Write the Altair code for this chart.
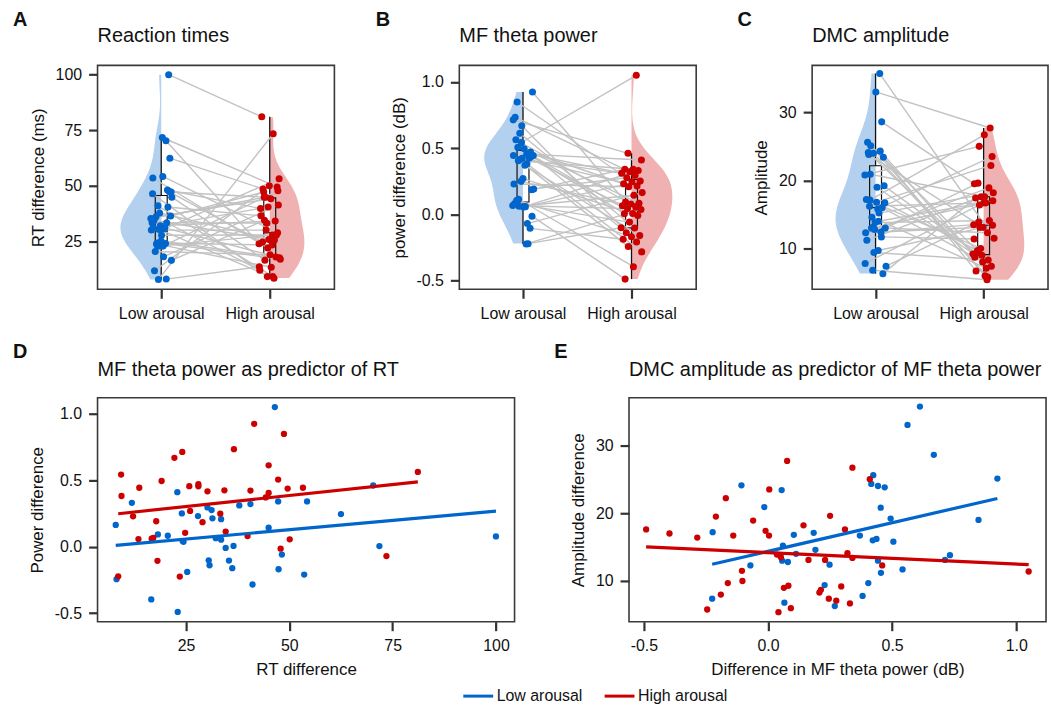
import altair as alt
import pandas as pd

# ---- per-participant values (39 participants) ----
rt_low = [46.5, 70.3, 22.9, 47.3, 54.3, 11.9, 40.6, 37.9, 30.2, 31.2, 24.0, 62.5, 27.9, 31.4, 33.5, 8.0, 45.0,
          18.2, 20.6, 100.0, 32.2, 33.5, 24.2, 24.4, 36.5, 71.8, 34.6, 48.2, 30.5, 35.4, 30.7, 36.2, 47.4, 25.3,
          53.6, 8.2, 41.1, 16.6, 23.0]
rt_high = [9.3, 24.1, 28.0, 45.0, 29.0, 50.1, 36.6, 25.8, 30.2, 17.8, 13.5, 48.7, 28.0, 40.6, 12.2, 73.5, 16.7,
           41.5, 19.1, 81.1, 34.3, 33.3, 17.1, 23.5, 47.3, 49.6, 26.0, 39.9, 8.6, 45.0, 53.3, 44.3, 24.8, 18.1,
           22.2, 13.7, 9.4, 34.6, 47.9]
pow_low = [0.542, 0.713, 0.454, 0.404, 0.184, 0.055, 0.733, 0.455, 0.416, 0.191, 0.057, 0.848, 0.47, 0.422,
           0.228, -0.071, 0.06, 0.924, 0.494, 0.562, 0.424, 0.248, 0.066, -0.225, 0.505, 0.437, 0.269, 0.08,
           -0.223, 0.612, 0.443, 0.37, 0.104, -0.107, 0.668, 0.443, 0.381, 0.113, -0.015]
pow_high = [1.05, 0.46, 0.41, 0.34, 0.34, 0.33, 0.32, 0.31, 0.295, 0.275, 0.25, 0.245, 0.23, 0.213, 0.207,
            0.163, 0.143, 0.092, 0.082, 0.077, 0.064, 0.052, 0.042, 0.036, 0.005, 0.004, -0.01, -0.06, -0.103,
            -0.105, -0.14, -0.162, -0.17, -0.19, -0.21, -0.245, -0.285, -0.397, -0.491]
amp_low = [11.7, 13.1, 20.8, 9.7, 17.1, 23.4, 13.8, 11.2, 24.3, 14.6, 13.0, 19.0, 23.8, 16.0, 9.4, 12.3, 15.2,
           25.1, 19.2, 33.0, 25.6, 12.4, 6.8, 7.4, 15.8, 16.2, 6.3, 12.8, 17.2, 35.7, 13.0, 16.7, 16.8, 24.1,
           28.6, 24.0, 7.8, 14.0, 20.9]
amp_high = [11.4, 12.3, 25.0, 13.4, 26.7, 6.7, 14.1, 17.6, 9.2, 7.1, 19.6, 7.4, 13.1, 8.7, 8.3, 13.1, 18.2,
            6.0, 9.3, 27.7, 9.0, 13.5, 5.4, 13.9, 23.5, 16.7, 17.4, 18.9, 10.0, 11.5, 16.7, 9.7, 22.2, 8.0,
            19.5, 5.8, 16.4, 17.0, 17.6]

GROUPS = ["Low arousal", "High arousal"]
BLUE, RED = "#0066CC", "#CC0000"
LBLUE, LRED = "#B4D0EF", "#EFB1B1"
FONT = "Liberation Sans"
n = len(rt_low)

long_df = pd.DataFrame({
    "sid": list(range(n)) * 2,
    "cond": [0] * n + [1] * n,
    "grp": [GROUPS[0]] * n + [GROUPS[1]] * n,
    "rt": rt_low + rt_high,
    "pw": pow_low + pow_high,
    "amp": amp_low + amp_high,
})
d_df = pd.DataFrame({"grp": [GROUPS[0]] * n + [GROUPS[1]] * n,
                     "x": rt_low + rt_high, "y": pow_high + pow_low})
e_df = pd.DataFrame({"grp": [GROUPS[0]] * n + [GROUPS[1]] * n,
                     "x": pow_low + pow_high, "y": amp_low + amp_high})
one = pd.DataFrame({"a": [0]})

XDOM = [-0.587, 1.596]
W = 0.376
DARK = alt.Scale(domain=GROUPS, range=[BLUE, RED])
LIGHT = alt.Scale(domain=GROUPS, range=[LBLUE, LRED])


def fmt1(dec):
    return (f"datum.value < 0 ? '-' + format(-datum.value, '.{dec}f') : format(datum.value, '.{dec}f')")


def labels(letter, ldx, ldy, title, tdy):
    lt = alt.Chart(one).mark_text(text=letter, fontSize=20, fontWeight="bold", align="left",
                                  baseline="middle", color="#111").encode(x=alt.value(ldx), y=alt.value(ldy))
    tt = alt.Chart(one).mark_text(text=title, fontSize=20, align="left", baseline="middle",
                                  color="#111").encode(x=alt.value(0), y=alt.value(tdy))
    return [lt, tt]


def raincloud(field, ytitle, ydom, yticks, ydec, letter, ldx, title, width, phase):
    xs = alt.Scale(domain=XDOM, nice=False, zero=False)
    ys = alt.Scale(domain=ydom, nice=False, zero=False)
    xa = alt.Axis(values=[0, 1], labelExpr="datum.value == 0 ? 'Low arousal' : 'High arousal'", title=None)
    ya = alt.Axis(values=yticks, labelExpr=fmt1(ydec), title=ytitle)
    base = alt.Chart(long_df)

    violin = base.transform_joinaggregate(
        lo=f"min({field})", hi=f"max({field})", groupby=["cond"]
    ).transform_density(
        field, groupby=["cond", "grp", "lo", "hi"], steps=400, as_=["v", "density"]
    ).transform_filter(
        "datum.v >= datum.lo && datum.v <= datum.hi"
    ).transform_joinaggregate(dmax="max(density)").transform_calculate(
        xw=f"datum.cond == 0 ? -{W}*datum.density/datum.dmax : 1 + {W}*datum.density/datum.dmax",
        xc="datum.cond",
    ).mark_area(orient="horizontal", opacity=1).encode(
        y=alt.Y("v:Q", scale=ys, axis=ya),
        x=alt.X("xw:Q", scale=xs, axis=xa),
        x2="xc:Q",
        fill=alt.Fill("grp:N", scale=LIGHT, legend=None),
    )

    stats = base.transform_joinaggregate(
        q1=f"q1({field})", q3=f"q3({field})", med=f"median({field})", groupby=["cond"]
    ).transform_filter(
        f"datum.{field} >= datum.q1 - 1.5*(datum.q3-datum.q1) && datum.{field} <= datum.q3 + 1.5*(datum.q3-datum.q1)"
    ).transform_aggregate(
        wlo=f"min({field})", whi=f"max({field})", groupby=["cond", "q1", "q3", "med"]
    ).transform_calculate(bl="datum.cond - 0.055", br="datum.cond + 0.055")

    box = stats.mark_rect(fillOpacity=0, stroke="#111", strokeWidth=1.2).encode(
        x=alt.X("bl:Q", scale=xs, axis=xa), x2="br:Q",
        y=alt.Y("q1:Q", scale=ys, axis=ya), y2="q3:Q")
    wl = stats.mark_rule(color="#111", strokeWidth=1.3).encode(
        x=alt.X("cond:Q", scale=xs, axis=xa), y=alt.Y("wlo:Q", scale=ys, axis=ya), y2="q1:Q")
    wh = stats.mark_rule(color="#111", strokeWidth=1.3).encode(
        x=alt.X("cond:Q", scale=xs, axis=xa), y=alt.Y("q3:Q", scale=ys, axis=ya), y2="whi:Q")
    med = stats.mark_rule(color="#111", strokeWidth=1.2).encode(
        x=alt.X("bl:Q", scale=xs, axis=xa), x2="br:Q", y=alt.Y("med:Q", scale=ys, axis=ya))

    jit = base.transform_calculate(
        xj=f"datum.cond + ((datum.sid*0.618034 + datum.cond*0.29 + {phase}) % 1 - 0.5)*0.2")
    lines = jit.mark_line(color="#C2C2C2", strokeWidth=1.4).encode(
        x=alt.X("xj:Q", scale=xs, axis=xa), y=alt.Y(f"{field}:Q", scale=ys, axis=ya),
        detail="sid:N", order="cond:Q")
    pts = jit.mark_circle(size=50, opacity=1).encode(
        x=alt.X("xj:Q", scale=xs, axis=xa), y=alt.Y(f"{field}:Q", scale=ys, axis=ya),
        color=alt.Color("grp:N", scale=DARK, legend=None))

    return alt.layer(violin, box, wl, wh, med, lines, pts,
                     *labels(letter, ldx, -46, title, -29)).properties(width=width, height=225)


def scatter(df, xtitle, ytitle, xdom, ydom, xticks, yticks, xdec, ydec, letter, ldx, title):
    xs = alt.Scale(domain=xdom, nice=False, zero=False)
    ys = alt.Scale(domain=ydom, nice=False, zero=False)
    xa = alt.Axis(values=xticks, labelExpr=fmt1(xdec), title=xtitle)
    ya = alt.Axis(values=yticks, labelExpr=fmt1(ydec), title=ytitle)
    pts = alt.Chart(df).mark_circle(size=40, opacity=1).encode(
        x=alt.X("x:Q", scale=xs, axis=xa), y=alt.Y("y:Q", scale=ys, axis=ya),
        color=alt.Color("grp:N", scale=DARK, legend=None))
    reg = alt.Chart(df).transform_regression("x", "y", groupby=["grp"]).mark_line(strokeWidth=3.2).encode(
        x=alt.X("x:Q", scale=xs, axis=xa), y=alt.Y("y:Q", scale=ys, axis=ya),
        color=alt.Color("grp:N", scale=DARK, legend=None))
    return alt.layer(pts, reg, *labels(letter, ldx, -46, title, -28)).properties(width=419, height=225)


A = raincloud("rt", "RT difference (ms)", [3.6, 104.2], [25, 50, 75, 100], 0, "A", -85,
              "Reaction times", 238, 0.1)
B = raincloud("pw", "power difference (dB)", [-0.568, 1.125], [-0.5, 0.0, 0.5, 1.0], 1, "B", -84,
              "MF theta power", 238, 0.43)
C = raincloud("amp", "Amplitude", [4.0, 36.9], [10, 20, 30], 0, "C", -75,
              "DMC amplitude", 237, 0.77)
D = scatter(d_df, "RT difference", "Power difference", [3.6, 104.5], [-0.565, 1.12],
            [25, 50, 75, 100], [-0.5, 0.0, 0.5, 1.0], 0, 1, "D", -85,
            "MF theta power as predictor of RT")
E = scatter(e_df, "Difference in MF theta power (dB)", "Amplitude difference", [-0.56, 1.12], [4.0, 37.0],
            [-0.5, 0.0, 0.5, 1.0], [10, 20, 30], 1, 0, "E", -75,
            "DMC amplitude as predictor of MF theta power")

leg_df = pd.DataFrame({"grp": GROUPS})
legend_chart = alt.Chart(leg_df).mark_line(strokeWidth=3).encode(
    x=alt.value(0), y=alt.value(0),
    color=alt.Color("grp:N", scale=DARK,
                    legend=alt.Legend(orient="none", legendX=366, legendY=0, direction="horizontal",
                                      title=None, symbolType="stroke", symbolSize=900,
                                      symbolStrokeWidth=3, symbolOpacity=1, labelFontSize=16,
                                      labelFont=FONT, labelColor="#111", columnPadding=15,
                                      labelOffset=2, padding=0)),
).properties(width=1, height=1, view=alt.ViewBackground(strokeWidth=0))

top = alt.hconcat(A, B, C, spacing=39.5).resolve_scale(color="independent", fill="independent")
bottom = alt.hconcat(D, E, spacing=38).resolve_scale(color="independent", fill="independent")
body = alt.vconcat(top, bottom, spacing=19).resolve_scale(color="independent", fill="independent")
chart = alt.vconcat(body, legend_chart, spacing=-5).resolve_scale(
    color="independent", fill="independent"
).properties(
    padding={"left": 12, "top": 7, "right": 2, "bottom": 2}
).configure(font=FONT).configure_view(
    stroke="#3a3a3a", strokeWidth=1.6
).configure_axis(
    grid=False, domain=False, labelFontSize=16, titleFontSize=17, titleFontWeight="normal",
    labelFont=FONT, titleFont=FONT, labelColor="#111", titleColor="#111",
    tickColor="#333", tickSize=9, tickWidth=2.2, labelPadding=7, titlePadding=8,
)

chart.save("out.html", embed_options={"renderer": "svg", "actions": False})
